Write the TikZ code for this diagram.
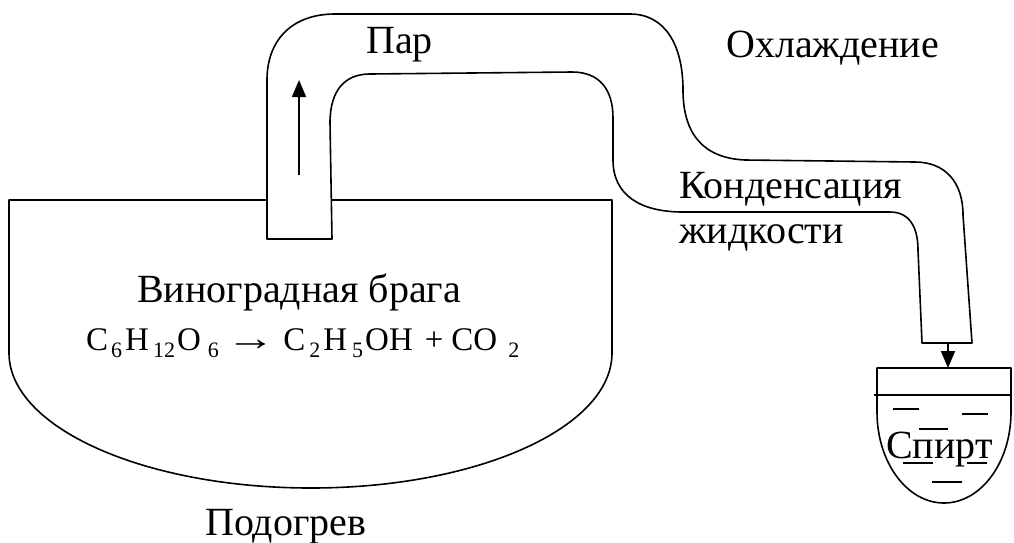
\documentclass[tikz,border=0pt]{standalone}
\usepackage{fontspec}
\usepackage{graphicx}
\setmainfont{Liberation Serif}
\usetikzlibrary{arrows.meta}
% lowered digit for chemical formulas
\newcommand{\chs}[1]{\raisebox{-0.23em}{\fontsize{22}{22}\selectfont #1}}

\begin{document}
\begin{tikzpicture}[x=1pt,y=-1pt,line join=round,
  wall/.style={line width=1.6pt},
  flow/.style={line width=1.8pt,-{Triangle[length=17pt,width=14pt]}},
  txt/.style={font=\fontsize{40}{46}\selectfont,inner sep=0pt,anchor=base west},
  formula/.style={font=\fontsize{33}{38}\selectfont,inner sep=0pt,anchor=base west},
  drop/.style={line width=1.4pt}]
\useasboundingbox (0,0) rectangle (1014,542);

% distillation pipe: one closed outline, outer wall then inner wall
\draw[wall] (267,239) -- (267,80)
  .. controls (267,40) and (292,14) .. (335,14) -- (630,14)
  .. controls (665,14) and (683,45) .. (683,90)
  .. controls (683,130) and (700,158) .. (745,160) -- (915,162)
  .. controls (945,162) and (963,182) .. (963,215) -- (972,343)
  -- (922,343) -- (918,250)
  .. controls (918,228) and (910,212) .. (890,212) -- (683,212)
  .. controls (640,212) and (613,195) .. (613,160) -- (613,118)
  .. controls (613,90) and (600,72) .. (572,72) -- (370,74)
  .. controls (345,74) and (330,90) .. (330,123) -- (332,239) -- cycle;

% boiling vessel
\draw[wall] (267,200) -- (9,200) -- (9,353)
  .. controls (9,427.6) and (144.2,488) .. (311,488)
  .. controls (477.8,488) and (612,427.6) .. (612,353)
  -- (612,200) -- (331,200);

% receiver
\draw[wall] (877,368) -- (877,412)
  .. controls (877,462.3) and (907,503) .. (944,503)
  .. controls (981,503) and (1011,462.3) .. (1011,412)
  -- (1011,368) -- cycle;
\draw[wall] (874,395) -- (1012,395);

% liquid marks in the receiver
\draw[drop] (893,409) -- (919,409);
\draw[drop] (962,414) -- (988,414);
\draw[drop] (919,429) -- (948,429);
\draw[drop] (903,463) -- (933,463);
\draw[drop] (967,463) -- (987,463);
\draw[drop] (932,482) -- (962,482);

% flow arrows
\coordinate (vapourlow) at (299,175);
\coordinate (vapourhigh) at (299,80);
\draw[flow] (vapourlow) -- (vapourhigh);
\coordinate (outlet) at (948,344);
\coordinate (rim) at (948,368);
\draw[flow] (outlet) -- (rim);

% labels
\node[txt] (vap) at (366,53) {Пар};
\node[txt] (cool) at (726,57) {Охлаждение};
\node[txt] (cond1) at (679,198) {Конденсация};
\node[txt] (cond2) at (679,243) {жидкости};
\node[txt] (mash) at (137,302) {Виноградная брага};
\node[formula] (react) at (86,350) {C\kern3pt\chs{6}\kern3pt H\kern4pt\chs{12}\kern2pt O\kern7pt\chs{6}\kern7pt\scalebox{1.5}[1.1]{→}\kern8pt C\kern4pt\chs{2}\kern3pt H\kern5pt\chs{5}\kern2pt OH\kern12pt+\kern8pt CO\kern11pt\chs{2}};
\node[txt] (heat) at (205,535) {Подогрев};
\node[txt] (spirit) at (886,458) {Спирт};
\end{tikzpicture}
\end{document}
